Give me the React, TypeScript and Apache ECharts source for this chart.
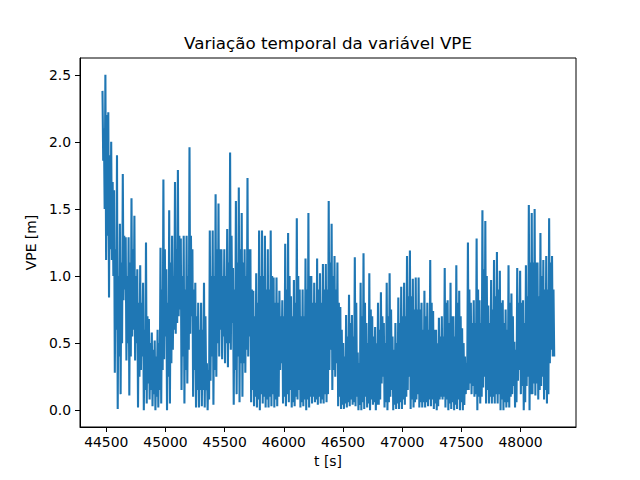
import { useEffect, useRef } from 'react';
import * as echarts from 'echarts';

// start time and spacing of the samples (four samples per step)
const T0 = 44468;
const DT = 24.5;

// local maxima, left to right
const peaks = [
  2.38, 2.5, 2.22, 2.0, 1.64, 1.9, 1.39, 1.76, 1.29, 1.29,
  1.58, 1.45, 1.05, 1.08, 0.95, 1.25, 0.68, 0.58, 0.52, 0.6,
  1.21, 1.72, 1.05, 1.49, 1.3, 1.7, 1.79, 1.28, 1.3, 1.3,
  1.96, 1.2, 0.95, 0.8, 0.8, 0.95, 0.35, 1.34, 1.34, 1.61,
  1.54, 1.2, 1.2, 1.35, 1.92, 1.06, 1.56, 1.66, 1.47, 1.2,
  1.73, 1.2, 0.89, 1.02, 1.34, 1.34, 1.3, 1.2, 1.34, 0.99,
  0.99, 0.89, 0.82, 1.24, 1.32, 0.85, 0.97, 1.43, 0.9, 0.9,
  1.13, 1.47, 1.0, 0.95, 1.13, 1.02, 1.09, 1.09, 1.56, 1.39,
  1.15, 1.1, 0.77, 0.5, 0.71, 0.86, 0.71, 1.14, 0.43, 0.95,
  1.17, 0.65, 1.02, 0.7, 0.62, 0.8, 0.88, 0.65, 0.95, 1.02,
  0.55, 0.65, 0.84, 0.92, 0.95, 1.15, 1.19, 0.98, 0.99, 0.99,
  0.8, 0.89, 0.8, 1.12, 0.74, 0.6, 0.69, 0.7, 1.06, 0.82,
  0.95, 0.7, 1.08, 0.89, 0.61, 0.4, 1.25, 0.8, 0.82, 1.28,
  0.82, 1.49, 1.41, 0.78, 0.97, 1.12, 1.18, 1.04, 0.82, 0.75,
  1.08, 0.87, 0.51, 1.06, 1.04, 0.82, 1.08, 1.53, 1.47, 1.5,
  1.1, 1.32, 1.12, 1.15, 1.43, 1.15,
];

// local minima, left to right
const troughs = [
  1.86, 1.12, 0.84, 1.12, 0.28, 0.01, 0.12, 0.82, 0.37, 0.11,
  0.55, 0.37, 0.02, 0.3, 0.0, 0.05, 0.08, 0.03, 0.0, 0.02,
  0.05, 0.38, 0.0, 0.05, 0.45, 0.57, 0.7, 0.15, 0.05, 0.2,
  0.57, 0.1, 0.02, 0.02, 0.03, 0.02, 0.0, 0.22, 0.04, 0.25,
  0.4, 0.38, 0.35, 0.32, 0.45, 0.04, 0.12, 0.06, 0.1, 0.28,
  0.4, 0.06, 0.03, 0.02, 0.0, 0.05, 0.02, 0.02, 0.03, 0.02,
  0.03, 0.3, 0.05, 0.03, 0.06, 0.02, 0.03, 0.08, 0.02, 0.03,
  0.0, 0.02, 0.05, 0.06, 0.04, 0.05, 0.05, 0.06, 0.3, 0.15,
  0.25, 0.03, 0.01, 0.01, 0.02, 0.03, 0.04, 0.03, 0.0, 0.0,
  0.01, 0.02, 0.0, 0.04, 0.0, 0.04, 0.2, 0.02, 0.0, 0.1,
  0.0, 0.01, 0.01, 0.01, 0.04, 0.15, 0.01, 0.02, 0.08, 0.02,
  0.02, 0.02, 0.03, 0.03, 0.01, 0.0, 0.08, 0.08, 0.02, 0.0,
  0.01, 0.0, 0.01, 0.0, 0.0, 0.12, 0.15, 0.12, 0.1, 0.0,
  0.05, 0.17, 0.05, 0.05, 0.05, 0.05, 0.05, 0.0, 0.0, 0.02,
  0.02, 0.12, 0.02, 0.22, 0.12, 0.0, 0.18, 0.0, 0.12, 0.11,
  0.08, 0.18, 0.08, 0.05, 0.35, 0.4,
];

// upper edge of the dense core between the spikes
const coreHigh = [
  2.1, 2.2, 1.9, 1.7, 1.2, 1.0, 1.1, 1.3, 1.0, 1.1,
  1.2, 1.0, 0.8, 0.8, 0.6, 0.7, 0.5, 0.45, 0.4, 0.5,
  0.9, 1.2, 0.8, 1.1, 1.0, 1.2, 1.3, 1.0, 0.9, 1.0,
  1.3, 0.9, 0.7, 0.6, 0.6, 0.7, 0.3, 1.0, 1.0, 1.2,
  1.2, 1.0, 1.0, 1.1, 1.3, 0.9, 1.1, 1.2, 1.1, 1.0,
  1.2, 0.9, 0.7, 0.8, 1.0, 1.0, 0.9, 0.9, 1.0, 0.8,
  0.8, 0.7, 0.7, 0.9, 1.0, 0.7, 0.8, 1.0, 0.7, 0.7,
  0.9, 1.0, 0.8, 0.8, 0.9, 0.8, 0.9, 0.9, 1.1, 1.0,
  0.9, 0.8, 0.6, 0.4, 0.55, 0.65, 0.55, 0.8, 0.35, 0.7,
  0.8, 0.5, 0.75, 0.55, 0.5, 0.6, 0.7, 0.5, 0.7, 0.75,
  0.45, 0.5, 0.65, 0.7, 0.7, 0.85, 0.85, 0.75, 0.75, 0.75,
  0.6, 0.7, 0.6, 0.8, 0.6, 0.5, 0.55, 0.55, 0.8, 0.65,
  0.7, 0.55, 0.8, 0.7, 0.5, 0.35, 0.9, 0.65, 0.65, 0.9,
  0.65, 1.05, 1.0, 0.65, 0.75, 0.85, 0.9, 0.8, 0.65, 0.6,
  0.8, 0.7, 0.45, 0.8, 0.8, 0.65, 0.85, 1.1, 1.1, 1.1,
  0.85, 1.0, 0.9, 0.9, 1.1, 0.9,
];

// lower edge of the dense core between the spikes
const coreLow = [
  1.5, 1.3, 1.2, 1.0, 0.6, 0.4, 0.5, 0.9, 0.5, 0.4,
  0.6, 0.5, 0.25, 0.4, 0.15, 0.2, 0.15, 0.12, 0.1, 0.15,
  0.3, 0.55, 0.25, 0.35, 0.6, 0.65, 0.75, 0.4, 0.3, 0.45,
  0.7, 0.3, 0.15, 0.15, 0.15, 0.15, 0.08, 0.4, 0.3, 0.5,
  0.6, 0.55, 0.5, 0.5, 0.65, 0.3, 0.4, 0.35, 0.35, 0.45,
  0.55, 0.15, 0.1, 0.08, 0.12, 0.1, 0.08, 0.1, 0.12, 0.08,
  0.1, 0.35, 0.1, 0.12, 0.15, 0.06, 0.1, 0.15, 0.06, 0.08,
  0.08, 0.1, 0.1, 0.08, 0.1, 0.08, 0.12, 0.12, 0.45, 0.3,
  0.35, 0.1, 0.04, 0.05, 0.06, 0.08, 0.06, 0.1, 0.04, 0.06,
  0.1, 0.05, 0.08, 0.06, 0.04, 0.08, 0.25, 0.06, 0.06, 0.15,
  0.04, 0.05, 0.06, 0.08, 0.1, 0.25, 0.08, 0.06, 0.12, 0.06,
  0.06, 0.06, 0.08, 0.08, 0.05, 0.03, 0.1, 0.1, 0.08, 0.05,
  0.06, 0.04, 0.08, 0.06, 0.04, 0.15, 0.2, 0.18, 0.12, 0.1,
  0.1, 0.25, 0.15, 0.1, 0.1, 0.12, 0.12, 0.08, 0.06, 0.06,
  0.1, 0.18, 0.06, 0.3, 0.18, 0.06, 0.25, 0.12, 0.2, 0.2,
  0.15, 0.25, 0.15, 0.12, 0.45, 0.4,
];

const xTicks = [44500, 45000, 45500, 46000, 46500, 47000, 47500, 48000];
const yTicks = [0, 0.5, 1.0, 1.5, 2.0, 2.5];

const FONT = 'DejaVu Sans';

export default function App() {
  const chartRef = useRef<HTMLDivElement>(null);

  useEffect(() => {
    document.body.style.margin = '0';
    if (!chartRef.current) return;
    const chart = echarts.init(chartRef.current, undefined, { renderer: 'svg' });

    const points: number[][] = [];
    peaks.forEach((p, i) => {
      const t = T0 + DT * i;
      points.push([t, p]);
      points.push([t + DT / 4, troughs[i]]);
      points.push([t + DT / 2, coreHigh[i]]);
      points.push([t + (3 * DT) / 4, coreLow[i]]);
    });

    const option: echarts.EChartsOption = {
      animation: false,
      backgroundColor: '#ffffff',
      title: {
        text: 'Variação temporal da variável VPE',
        left: 328,
        top: 34,
        textAlign: 'center',
        padding: 0,
        textStyle: {
          fontFamily: FONT,
          fontSize: 16.7,
          fontWeight: 'normal',
          color: '#000',
        },
      },
      grid: {
        left: 80,
        right: 64,
        top: 58,
        bottom: 53,
        show: true,
        borderColor: '#000',
        borderWidth: 1,
        backgroundColor: 'transparent',
      },
      xAxis: {
        type: 'value',
        min: 44278,
        max: 48468,
        name: 't [s]',
        nameLocation: 'middle',
        nameGap: 27,
        nameTextStyle: { fontFamily: FONT, fontSize: 13.9, color: '#000' },
        axisLine: { show: true, onZero: false, lineStyle: { color: '#000', width: 1 } },
        axisTick: { show: true, length: 5, customValues: xTicks, lineStyle: { color: '#000' } },
        axisLabel: {
          customValues: xTicks,
          margin: 8,
          fontFamily: FONT,
          fontSize: 13.9,
          color: '#000',
          formatter: (v: number) => String(v),
        },
        splitLine: { show: false },
      },
      yAxis: {
        type: 'value',
        min: -0.125,
        max: 2.625,
        name: 'VPE [m]',
        nameLocation: 'middle',
        nameGap: 38,
        nameTextStyle: { fontFamily: FONT, fontSize: 13.9, color: '#000' },
        axisLine: { show: true, onZero: false, lineStyle: { color: '#000', width: 1 } },
        axisTick: { show: true, length: 5, customValues: yTicks, lineStyle: { color: '#000' } },
        axisLabel: {
          customValues: yTicks,
          margin: 9,
          fontFamily: FONT,
          fontSize: 13.9,
          color: '#000',
          formatter: (v: number) => v.toFixed(1),
        },
        splitLine: { show: false },
      },
      series: [
        {
          type: 'line',
          data: points,
          showSymbol: false,
          lineStyle: { color: '#1f77b4', width: 2.1 },
          itemStyle: { color: '#1f77b4' },
        },
      ],
    };

    chart.setOption(option);
    return () => chart.dispose();
  }, []);

  return <div ref={chartRef} style={{ width: 640, height: 480 }} />;
}
